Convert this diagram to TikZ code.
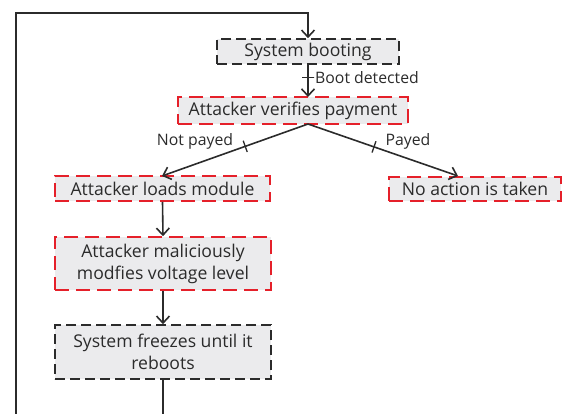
\documentclass[tikz,border=0pt]{standalone}
\usepackage{fontspec}
\setmainfont{Open Sans}
\usetikzlibrary{arrows.meta}
\definecolor{boxfill}{HTML}{EBEBED}
\definecolor{redline}{HTML}{E5202A}
\definecolor{txt}{HTML}{2B2B2B}
\begin{document}
\begin{tikzpicture}[x=1pt,y=-1pt,
  font=\fontsize{17.6}{22}\selectfont, text=txt,
  basebox/.style={fill=boxfill, line width=1.6pt, inner sep=0pt, align=center, anchor=center},
  sysbox/.style={basebox, draw=txt, dash pattern=on 10pt off 5pt},
  atkbox/.style={basebox, draw=redline, dash pattern=on 14pt off 7pt},
  conn/.style={line width=1.6pt, draw=txt, -{Straight Barb[length=7pt,width=13pt,line width=1.6pt]}},
  tickmark/.style={sloped, draw=txt, line width=1.3pt, inner sep=0pt, minimum width=0pt, minimum height=12pt, shape=rectangle},
  lbl/.style={inner sep=0pt, font=\fontsize{15.8}{19}\selectfont}]
\useasboundingbox (0,0) rectangle (563,413);

\node[sysbox, minimum width=182pt, minimum height=25pt] (boot) at (308,51.5) {System booting};
\node[atkbox, minimum width=230pt, minimum height=27pt] (verify) at (293,110.5) {Attacker verifies payment};
\node[atkbox, minimum width=215pt, minimum height=25pt] (load) at (162.5,188.5) {Attacker loads module};
\node[atkbox, minimum width=172pt, minimum height=24pt] (noact) at (475,189) {No action is taken};
\node[atkbox, minimum width=216pt, minimum height=53pt] (modify) at (163,263.5) {Attacker maliciously\\modfies voltage level};
\node[sysbox, minimum width=216pt, minimum height=54pt] (freeze) at (163,352) {System freezes until it\\reboots};

\coordinate (vbot) at (308,124);
\coordinate (vtop) at (308,97);
\coordinate (loadtop) at (162,176);
\coordinate (noacttop) at (458,176);
\coordinate (c1) at (163,430);
\coordinate (c2) at (16,430);
\coordinate (c3) at (16,13);

\draw[conn] (boot.south) -- node[pos=0.39, tickmark] {} (vtop);
\node[lbl, anchor=west] (bootlbl) at (315,78) {Boot detected};

\draw[conn] (vbot) -- node[pos=0.43, tickmark] {} (loadtop);
\draw[conn] (vbot) -- node[pos=0.44, tickmark] {} (noacttop);
\node[lbl] (notpayed) at (195,141) {Not payed};
\node[lbl] (payed) at (408,141) {Payed};

\draw[conn] (load.south) -- (modify.north);
\draw[conn] (modify.south) -- (freeze.north);

\draw[conn] (freeze.south) -- (c1) -- (c2) -- (c3) -| (boot.north);
\end{tikzpicture}
\end{document}
